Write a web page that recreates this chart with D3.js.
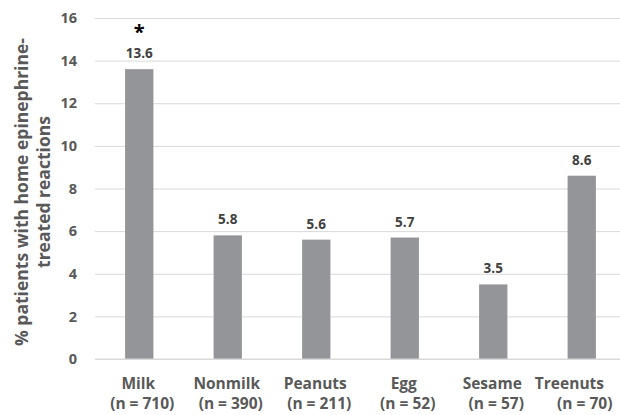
<!DOCTYPE html>
<html>
<head>
<meta charset="utf-8">
<script src="https://cdn.jsdelivr.net/npm/d3@7"></script>
<style>
  html, body { margin: 0; padding: 0; background: #fff; }
  svg { display: block; font-family: "Open Sans", Lato, sans-serif; font-weight: bold; }
</style>
</head>
<body>
<div id="chart"></div>
<script>
// Food allergen groups and their sample sizes
const categories = ["Milk", "Nonmilk", "Peanuts", "Egg", "Sesame", "Treenuts"];
const sampleSizes = ["(n = 710)", "(n = 390)", "(n = 211)", "(n = 52)", "(n = 57)", "(n = 70)"];
// Percent of patients with home epinephrine-treated reactions
const values = [13.6, 5.8, 5.6, 5.7, 3.5, 8.6];
const significant = [true, false, false, false, false, false];
const yTicks = [0, 2, 4, 6, 8, 10, 12, 14, 16];
const yTitle = ["% patients with home epinephrine-", "treated reactions"];

const W = 620, H = 415;
const plot = { left: 95, right: 626, top: 18, bottom: 359 };

const svg = d3.select("#chart").append("svg")
  .attr("width", W).attr("height", H);

const x = d3.scaleBand()
  .domain(categories)
  .range([plot.left, plot.right])
  .paddingInner(0.68)
  .paddingOuter(0.34);

const y = d3.scaleLinear()
  .domain([0, 16])
  .range([plot.bottom, plot.top]);

// Horizontal gridlines with value labels on the left
const yAxis = d3.axisLeft(y)
  .tickValues(yTicks)
  .tickSize(-(W - plot.left))
  .tickPadding(18)
  .tickFormat(d3.format("d"));

const gy = svg.append("g")
  .attr("transform", `translate(${plot.left},0)`)
  .call(yAxis);
gy.select(".domain").remove();
gy.selectAll(".tick line").attr("stroke", "#d9d9d9").attr("stroke-width", 1);
gy.selectAll(".tick text")
  .attr("fill", "#595959")
  .style("font-size", "14.5px")
  .style("font-family", "'Open Sans', sans-serif")
  .style("font-weight", "bold");

// Bars
svg.append("g").selectAll("rect")
  .data(values)
  .join("rect")
  .attr("x", (d, i) => x(categories[i]))
  .attr("width", x.bandwidth())
  .attr("y", d => y(d))
  .attr("height", d => y(0) - y(d))
  .attr("fill", "#939598");

// Baseline
svg.append("line")
  .attr("x1", plot.left).attr("x2", W)
  .attr("y1", y(0)).attr("y2", y(0))
  .attr("stroke", "#d9d9d9").attr("stroke-width", 1.2);

// Value labels above bars
svg.append("g").selectAll("text")
  .data(values)
  .join("text")
  .attr("x", (d, i) => x(categories[i]) + x.bandwidth() / 2)
  .attr("y", d => y(d) - 11)
  .attr("text-anchor", "middle")
  .attr("fill", "#404040")
  .style("font-size", "13.5px")
  .text(d => d.toFixed(1));

// Significance marker
svg.append("g").selectAll("text")
  .data(values.map((v, i) => ({ v, i })).filter(d => significant[d.i]))
  .join("text")
  .attr("x", d => x(categories[d.i]) + x.bandwidth() / 2)
  .attr("y", d => y(d.v) - 30)
  .attr("text-anchor", "middle")
  .attr("fill", "#000")
  .style("font-size", "20px")
  .text("*");

// Category labels (two lines each), kept inside the right edge
const catG = svg.append("g");
categories.forEach((c, i) => {
  const cx = x(c) + x.bandwidth() / 2;
  const t1 = catG.append("text")
    .attr("x", cx - 1).attr("y", 389)
    .attr("text-anchor", "middle").attr("fill", "#595959")
    .style("font-size", "15.5px").text(c);
  const t2 = catG.append("text")
    .attr("x", cx + 3).attr("y", 409)
    .attr("text-anchor", "middle").attr("fill", "#595959")
    .style("font-size", "15.5px").text(sampleSizes[i]);
  [t1, t2].forEach((t, k) => {
    const w = t.node().getComputedTextLength();
    const limit = k === 0 ? 604 : 613;
    const right = +t.attr("x") + w / 2;
    if (right > limit) t.attr("x", +t.attr("x") - (right - limit));
  });
});

// Rotated y-axis title
const titleG = svg.append("g")
  .attr("transform", `translate(0,192) rotate(-90)`);
titleG.selectAll("text")
  .data(yTitle)
  .join("text")
  .attr("x", 0)
  .attr("y", (d, i) => 28 + i * 22)
  .attr("text-anchor", "middle")
  .attr("fill", "#595959")
  .style("font-size", "17.5px")
  .text(d => d);
</script>
</body>
</html>
